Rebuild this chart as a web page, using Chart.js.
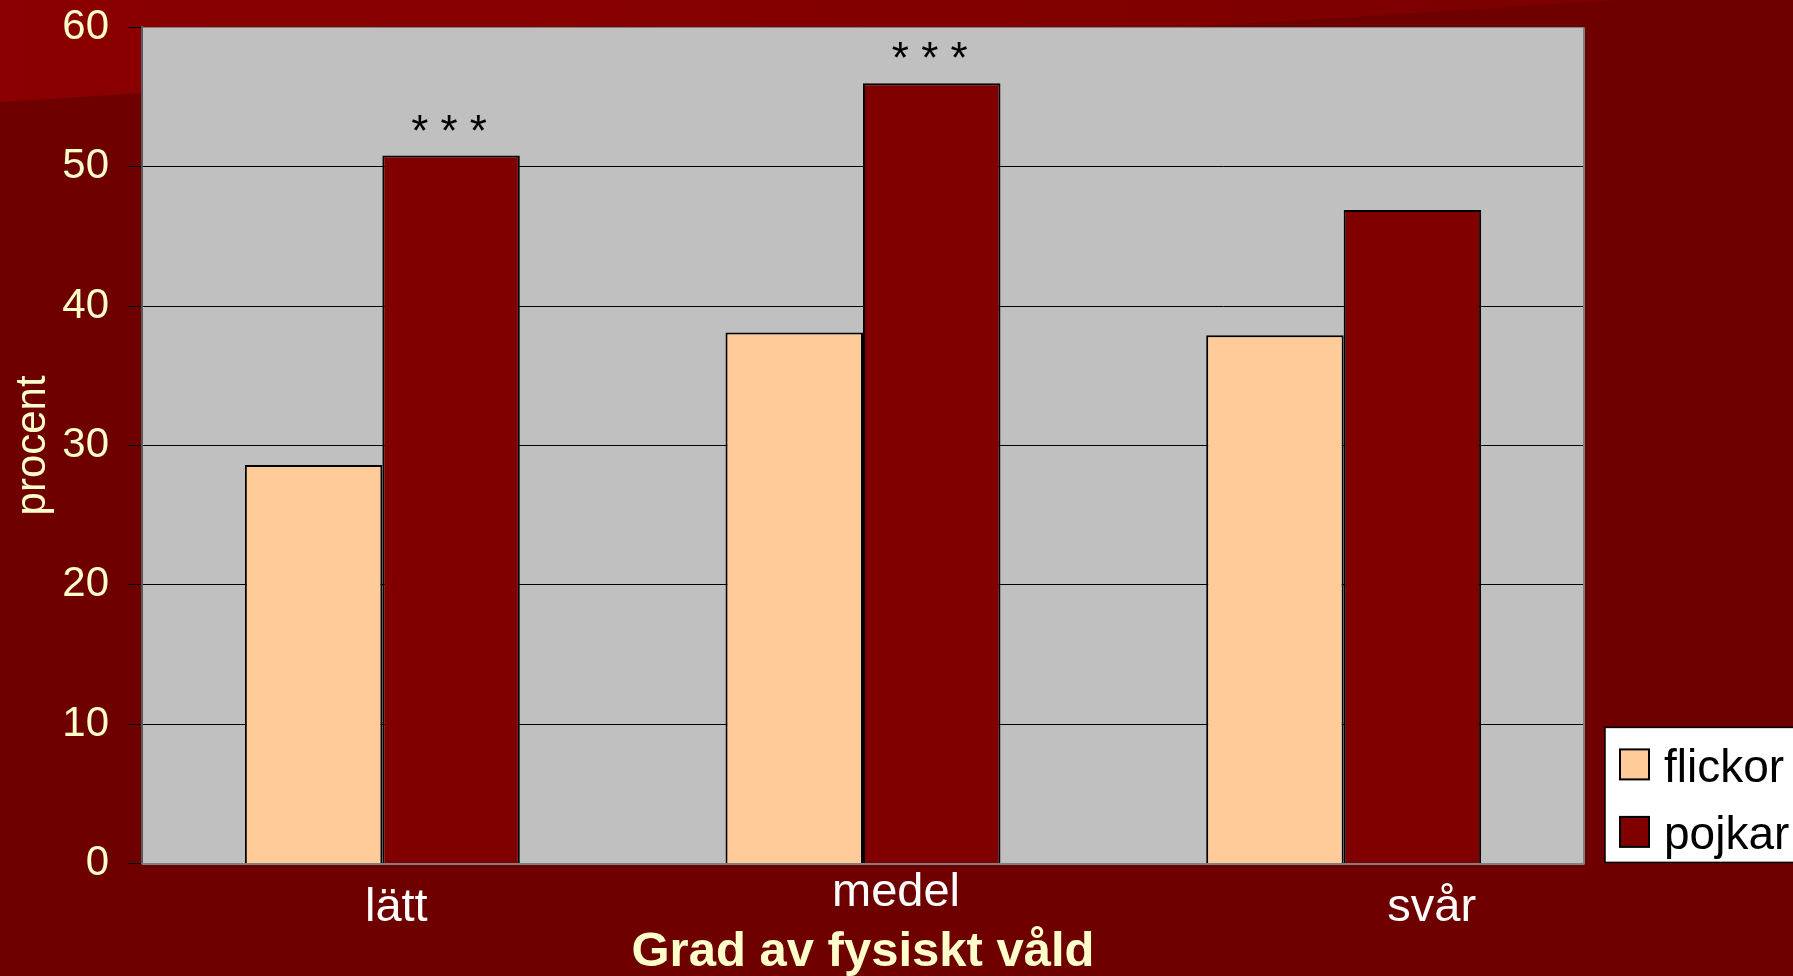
<!DOCTYPE html>
<html><head><meta charset="utf-8">
<script src="https://cdn.jsdelivr.net/npm/chart.js@4"></script>
<style>html,body{margin:0;padding:0;background:#6e0000;overflow:hidden}canvas{display:block}</style>
</head><body>
<canvas id="c" width="1793" height="976" style="width:1793px;height:976px"></canvas>
<script>
// ---- data ----
const categories = ['lätt', 'medel', 'svår'];
const seriesNames = ['flickor', 'pojkar'];
const flickor = [28.6, 38.1, 37.9];
const pojkar = [50.8, 56.0, 46.9];
const significance = ['***', '***', ''];
const yTicks = [0, 10, 20, 30, 40, 50, 60];
const xTitle = 'Grad av fysiskt våld';
const yTitle = 'procent';

// ---- style ----
const FONT = '"Liberation Sans", Arial, sans-serif';
const CREAM = '#FFFFCC';
const xLabelShift = [{dx: 14, dy: 58}, {dx: 33, dy: 43}, {dx: 88, dy: 58}];

const bgPlugin = {
  id: 'bg',
  beforeDraw(chart) {
    const {ctx, width: W, height: H, chartArea: ca} = chart;
    ctx.save();
    ctx.fillStyle = '#6e0000';
    ctx.fillRect(0, 0, W, H);
    const g = ctx.createLinearGradient(0, 0, W, 0);
    g.addColorStop(0, '#8b0000');
    g.addColorStop(1, '#7a0000');
    ctx.fillStyle = g;
    ctx.beginPath();
    ctx.moveTo(0, 0); ctx.lineTo(1620, 0); ctx.lineTo(0, 102); ctx.closePath();
    ctx.fill();
    ctx.fillStyle = '#C0C0C0';
    ctx.fillRect(ca.left, ca.top, ca.right - ca.left, ca.bottom - ca.top);
    ctx.restore();
  },
  afterDatasetsDraw(chart) {
    const {ctx, chartArea: ca} = chart;
    ctx.save();
    ctx.strokeStyle = '#808080';
    ctx.lineWidth = 2;
    ctx.beginPath();
    ctx.moveTo(ca.right, ca.top); ctx.lineTo(ca.right, ca.bottom + 1);
    ctx.moveTo(ca.left, ca.bottom + 0.5); ctx.lineTo(ca.right, ca.bottom + 0.5);
    ctx.stroke();
    // significance stars over pojkar bars
    const meta = chart.getDatasetMeta(1);
    ctx.fillStyle = '#000';
    ctx.font = '44px ' + FONT;
    ctx.textAlign = 'center';
    ctx.textBaseline = 'alphabetic';
    meta.data.forEach((bar, i) => {
      const s = significance[i];
      if (!s) return;
      ctx.fillText(s.split('').join(' '), bar.x - 2, bar.y - 10);
    });
    // x category labels
    const xs = chart.scales.x;
    ctx.fillStyle = '#FFFFFF';
    ctx.font = '47px ' + FONT;
    categories.forEach((c, i) => {
      const sh = xLabelShift[i];
      ctx.fillText(c, xs.getPixelForTick(i) + sh.dx, ca.bottom + sh.dy);
    });
    // legend
    const L = ca.right + 21, T = ca.bottom - 136, LH = 135;
    ctx.fillStyle = '#FFFFFF';
    ctx.fillRect(L, T, chart.width - L + 20, LH);
    ctx.strokeStyle = '#000';
    ctx.lineWidth = 1.5;
    ctx.strokeRect(L, T, chart.width - L + 20, LH);
    ctx.font = '46px ' + FONT;
    ctx.textAlign = 'left';
    chart.data.datasets.forEach((ds, i) => {
      const sy = T + 22 + i * 67.5;
      ctx.fillStyle = ds.backgroundColor;
      ctx.fillRect(L + 15, sy, 29, 30);
      ctx.strokeStyle = '#000';
      ctx.lineWidth = 2;
      ctx.strokeRect(L + 15, sy, 29, 30);
      ctx.fillStyle = '#000';
      ctx.fillText(ds.label, L + 59, T + 55 + i * 66.5);
    });
    ctx.restore();
  }
};

new Chart(document.getElementById('c'), {
  type: 'bar',
  data: {
    labels: categories,
    datasets: [
      {label: seriesNames[0], data: flickor, backgroundColor: '#FFCC99', borderColor: '#000', borderWidth: 2},
      {label: seriesNames[1], data: pojkar, backgroundColor: '#800000', borderColor: '#000', borderWidth: 2}
    ]
  },
  options: {
    responsive: false,
    devicePixelRatio: 1,
    animation: false,
    categoryPercentage: 0.572,
    barPercentage: 1,
    layout: {padding: {top: 27.4, right: 209, left: 0, bottom: 0}},
    plugins: {legend: {display: false}, tooltip: {enabled: false}},
    scales: {
      x: {
        grid: {display: false},
        border: {display: false},
        ticks: {display: false},
        afterFit(s) { s.height = 112.6; s.paddingLeft = 0; s.paddingRight = 0; },
        title: {display: true, text: xTitle, color: CREAM,
          font: {family: FONT, size: 49, weight: 'bold', lineHeight: 1}, padding: {top: 0, bottom: -1}}
      },
      y: {
        min: 0, max: 60,
        afterBuildTicks(s) { s.ticks = yTicks.map(v => ({value: v})); },
        afterFit(s) { s.width = 142; s.paddingTop = 0; s.paddingBottom = 0; },
        grid: {
          color: c => (c.tick && (c.tick.value === 0 || c.tick.value === 60)) ? '#808080' : '#000000',
          tickColor: '#000', tickLength: 14, lineWidth: 1
        },
        border: {display: true, color: '#5a5a5a', width: 2},
        ticks: {color: CREAM, padding: 19, font: {family: FONT, size: 42}},
        title: {display: true, text: yTitle, color: CREAM,
          font: {family: FONT, size: 42, lineHeight: 1}, padding: {top: 12, bottom: 0}}
      }
    }
  },
  plugins: [bgPlugin]
});
</script>
</body></html>
